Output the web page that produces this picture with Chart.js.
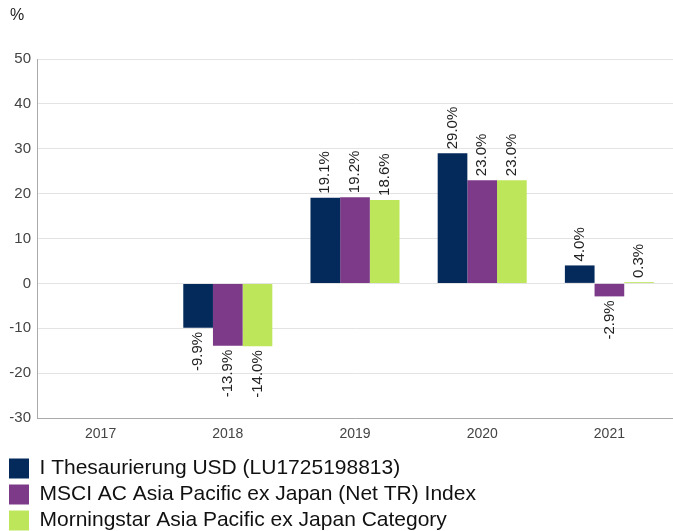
<!DOCTYPE html>
<html>
<head>
<meta charset="utf-8">
<script src="https://cdn.jsdelivr.net/npm/chart.js@4"></script>
<style>
    html, body { margin: 0; padding: 0; background: #fff; }
    #wrap { width: 673px; height: 531px; }
</style>
</head>
<body>
<div id="wrap"><canvas id="grafico"></canvas></div>
<script>
const YEARS = ['2017', '2018', '2019', '2020', '2021'];
const FUND = [null, -9.9, 19.1, 29.0, 4.0];
const INDEX = [null, -13.9, 19.2, 23.0, -2.9];
const CATEGORY = [null, -14.0, 18.6, 23.0, 0.3];
const SERIES_NAMES = [
    'I Thesaurierung USD (LU1725198813)',
    'MSCI AC Asia Pacific ex Japan (Net TR) Index',
    'Morningstar Asia Pacific ex Japan Category'
];
const COLORS = ['#042a5c', '#7d3a89', '#bde65b'];
const Y_MIN = -30, Y_MAX = 50, Y_STEP = 10;

const FONT = '"Liberation Sans", Arial, sans-serif';

// "%" unit label at the top left
const unidade = {
    id: 'unidade',
    afterDraw(chart) {
        const ctx = chart.ctx;
        ctx.save();
        ctx.font = '16px ' + FONT;
        ctx.fillStyle = '#222';
        ctx.textBaseline = 'middle';
        ctx.textAlign = 'left';
        ctx.fillText('%', 10, 16);
        ctx.restore();
    }
};

// rotated value labels above / below each bar
const rotuloBarras = {
    id: 'rotuloBarras',
    afterDatasetsDraw(chart) {
        const ctx = chart.ctx;
        ctx.save();
        ctx.font = '15px ' + FONT;
        ctx.fillStyle = '#222';
        ctx.textBaseline = 'middle';
        chart.data.datasets.forEach((ds, i) => {
            const meta = chart.getDatasetMeta(i);
            meta.data.forEach((bar, j) => {
                const v = ds.data[j];
                if (v === null || v === undefined) return;
                const txt = v.toFixed(1) + '%';
                ctx.save();
                ctx.translate(bar.x, bar.y);
                ctx.rotate(-Math.PI / 2);
                if (v >= 0) {
                    ctx.textAlign = 'left';
                    ctx.fillText(txt, 4, 0);
                } else {
                    ctx.textAlign = 'right';
                    ctx.fillText(txt, -4, 0);
                }
                ctx.restore();
            });
        });
        ctx.restore();
    }
};

new Chart(document.getElementById('grafico').getContext('2d'), {
    type: 'bar',
    data: {
        labels: YEARS,
        datasets: [FUND, INDEX, CATEGORY].map((d, i) => ({
            label: SERIES_NAMES[i],
            data: d,
            backgroundColor: COLORS[i],
            borderWidth: 0,
            categoryPercentage: 0.7,
            barPercentage: 1.0
        }))
    },
    options: {
        responsive: true,
        maintainAspectRatio: false,
        animation: false,
        layout: { padding: { left: 4, right: 0, top: 59, bottom: -10 } },
        scales: {
            x: {
                grid: { display: false },
                border: { display: true, color: '#aaa' },
                ticks: { color: '#444', font: { family: FONT, size: 14 }, padding: 0 },
                afterFit(scale) { scale.height = 35; }
            },
            y: {
                min: Y_MIN,
                max: Y_MAX,
                ticks: { stepSize: Y_STEP, color: '#444', font: { family: FONT, size: 15 }, padding: 6 },
                grid: { color: '#e3e3e3', drawTicks: false },
                border: { display: true, color: '#aaa' },
                afterFit(scale) { scale.width = 33; }
            }
        },
        plugins: {
            title: { display: false },
            legend: {
                position: 'bottom',
                align: 'start',
                labels: {
                    color: '#111',
                    font: { family: FONT, size: 21 },
                    boxWidth: 20,
                    boxHeight: 20,
                    padding: 5
                }
            },
            tooltip: { enabled: false }
        }
    },
    plugins: [rotuloBarras, unidade]
});
</script>
</body>
</html>
